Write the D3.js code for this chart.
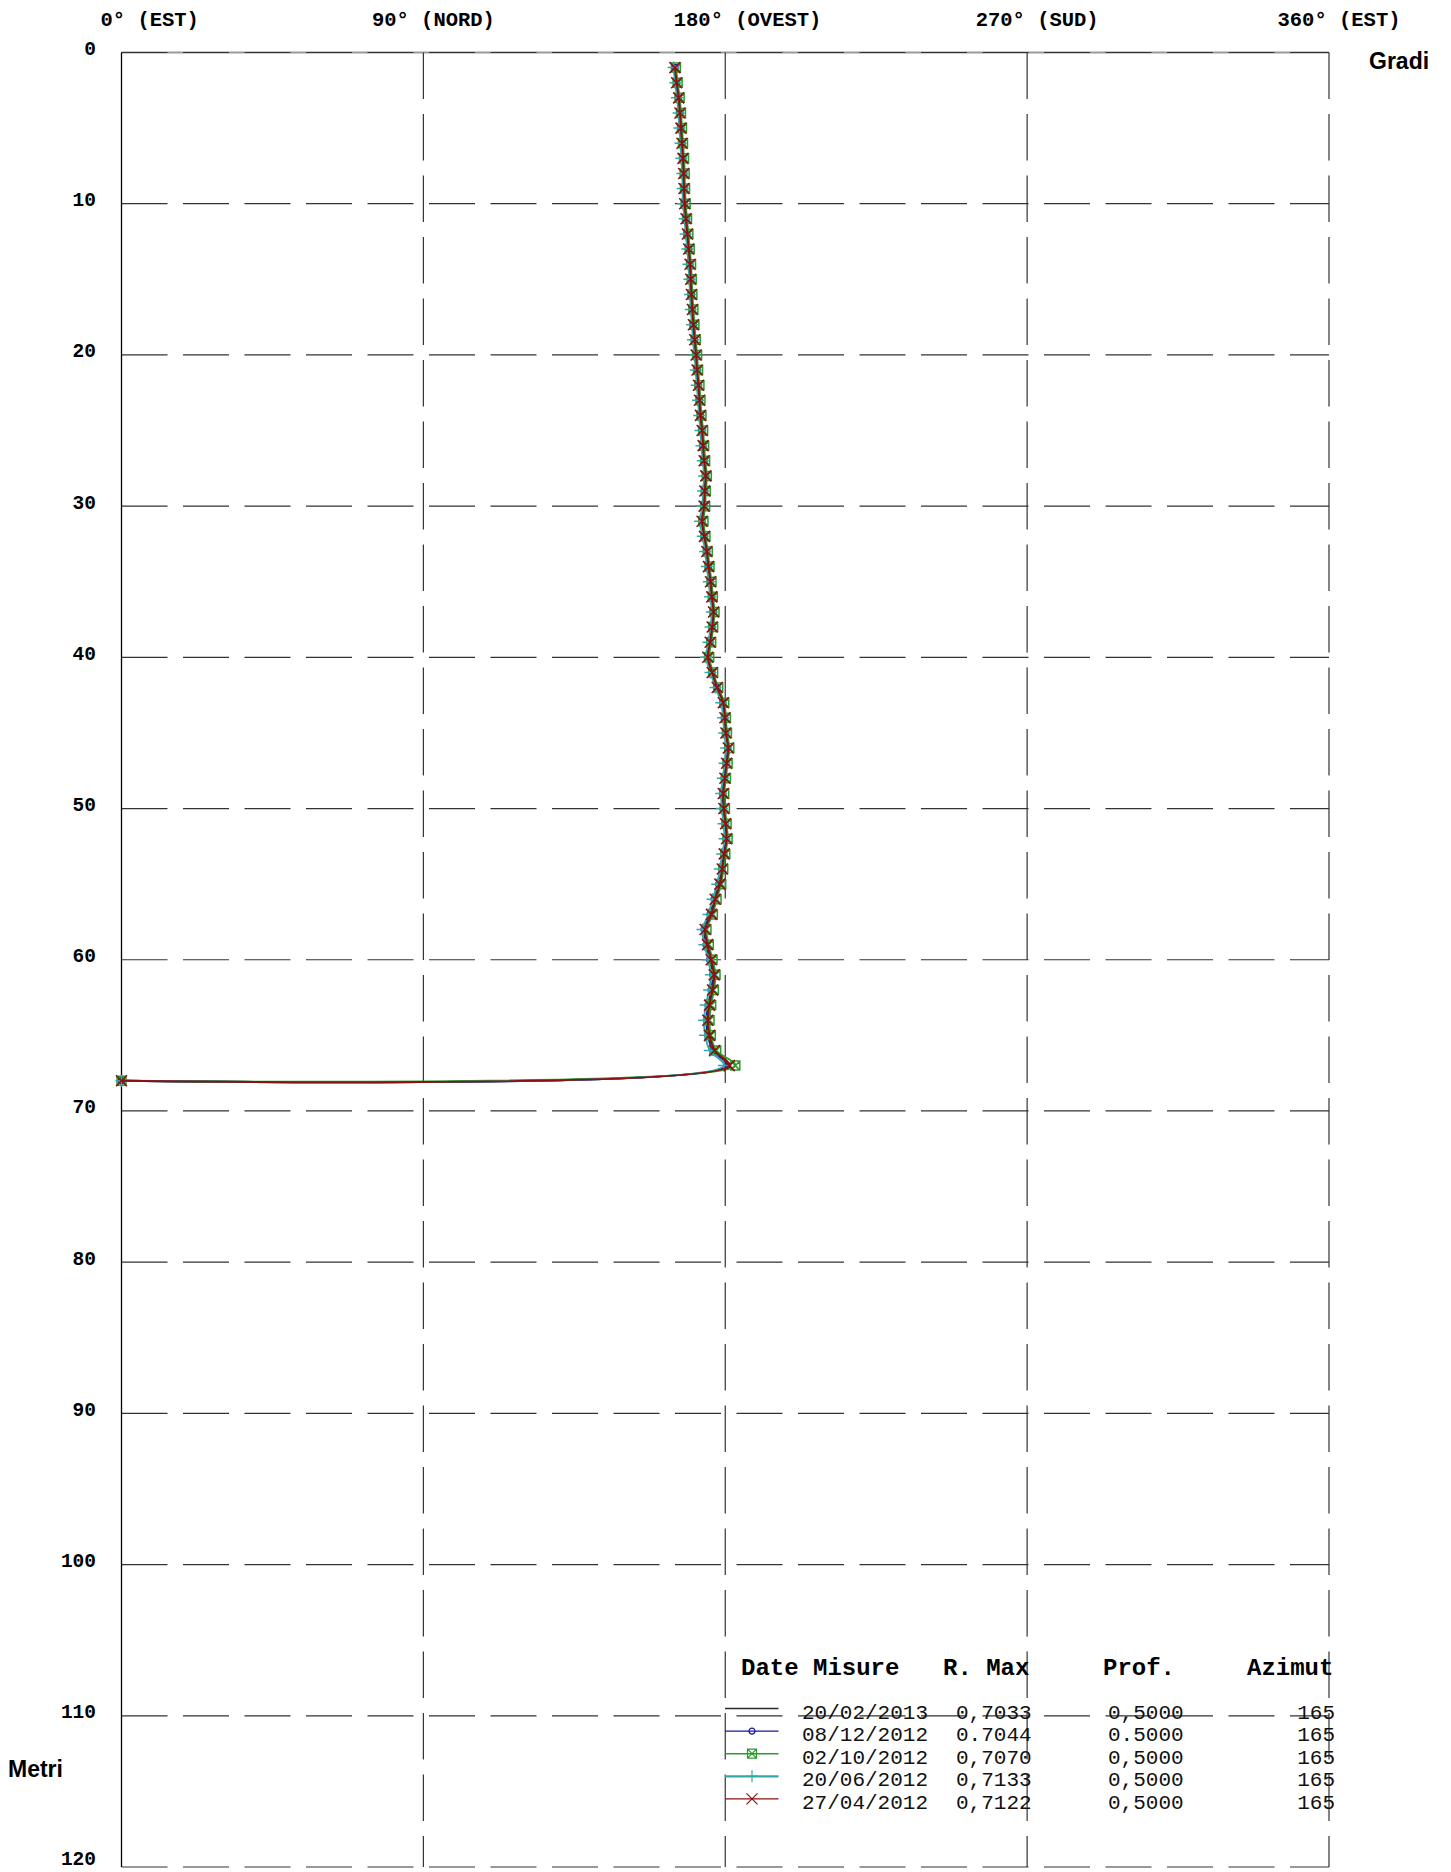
<!DOCTYPE html>
<html><head><meta charset="utf-8">
<script src="https://cdn.jsdelivr.net/npm/d3@7"></script>
<style>body{margin:0;background:#fff}</style>
</head><body><div id="chart"></div>
<script>
// ---------- DATA ----------
const depths = [1,2,3,4,5,6,7,8,9,10,11,12,13,14,15,16,17,18,19,20,
  21,22,23,24,25,26,27,28,29,30,31,32,33,34,35,36,37,38,39,40,
  41,42,43,44,45,46,47,48,49,50,51,52,53,54,55,56,57,58,59,60,
  61,62,63,64,65,66,67,68];

const az_20022013 = [165.1,165.6,166.1,166.6,166.8,167.2,167.4,167.6,167.8,167.9,
  168.4,168.7,169.2,169.5,169.7,170.0,170.2,170.6,170.9,171.3,
  171.7,172.0,172.3,172.7,173.1,173.4,173.8,174.2,173.9,173.6,
  173.1,173.8,174.5,175.1,175.6,176.0,176.5,176.1,175.4,174.8,
  176.1,177.7,179.3,179.9,180.2,180.8,180.4,179.9,179.4,179.6,
  180.1,180.4,179.7,179.0,178.3,177.0,175.8,174.0,174.6,175.7,
  176.6,176.1,175.2,174.7,175.1,176.6,181.0,0];
const az_08122012 = [165.0,165.5,166.0,166.5,166.7,167.1,167.3,167.6,167.7,167.8,
  168.3,168.6,169.1,169.4,169.7,169.9,170.1,170.5,170.8,171.2,
  171.6,171.9,172.3,172.6,173.0,173.3,173.7,174.1,173.8,173.6,
  173.0,173.7,174.4,175.0,175.5,175.9,176.4,176.0,175.4,174.7,
  176.0,177.5,179.2,179.8,180.1,180.7,180.2,179.7,179.2,179.4,
  179.9,180.2,179.5,178.9,178.1,176.7,175.5,173.7,174.3,175.4,
  176.3,175.8,174.9,174.4,174.8,176.3,180.5,0];
const az_02102012 = [165.3,165.8,166.4,166.8,167.1,167.4,167.7,167.9,168.0,168.2,
  168.6,169.0,169.4,169.8,170.0,170.2,170.5,170.8,171.2,171.6,
  171.9,172.3,172.6,172.9,173.4,173.7,174.0,174.5,174.2,174.0,
  173.5,174.1,174.8,175.3,175.9,176.3,176.8,176.4,175.8,175.2,
  176.4,177.9,179.7,180.2,180.5,181.2,180.7,180.2,179.7,179.9,
  180.4,180.7,180.0,179.4,178.8,177.4,176.3,174.4,175.1,176.2,
  177.1,176.6,175.8,175.3,175.7,177.3,183.0,0];
const az_20062012 = [164.6,165.1,165.6,166.1,166.3,166.7,166.9,167.2,167.3,167.4,
  167.9,168.2,168.7,169.0,169.3,169.5,169.7,170.1,170.4,170.8,
  171.2,171.5,171.9,172.2,172.6,172.9,173.3,173.7,173.4,173.2,
  172.5,173.3,174.0,174.5,175.1,175.5,176.0,175.6,175.0,174.3,
  175.6,177.1,178.8,179.4,179.7,180.3,179.8,179.3,178.8,179.0,
  179.5,179.8,179.1,178.4,177.6,176.2,175.0,173.2,173.8,174.9,
  175.7,175.2,174.2,173.7,174.0,175.4,179.6,0];
const az_27042012 = [165.0,165.5,166.1,166.5,166.8,167.1,167.4,167.6,167.7,167.9,
  168.3,168.7,169.1,169.5,169.7,169.9,170.2,170.5,170.9,171.3,
  171.6,172.0,172.3,172.6,173.1,173.4,173.7,174.2,173.9,173.7,
  173.1,173.8,174.5,175.0,175.6,176.0,176.5,176.1,175.5,174.8,
  176.1,177.6,179.4,179.9,180.2,180.9,180.4,179.9,179.4,179.6,
  180.1,180.4,179.7,179.1,178.4,177.0,175.9,174.0,174.7,175.8,
  176.7,176.2,175.3,174.8,175.3,176.8,181.2,0];

const dates  = ["20/02/2013","08/12/2012","02/10/2012","20/06/2012","27/04/2012"];
const rMax   = ["0,7033","0.7044","0,7070","0,7133","0,7122"];
const prof   = ["0,5000","0.5000","0,5000","0,5000","0,5000"];
const azimut = ["165","165","165","165","165"];
const legendHeaders = ["Date Misure","R. Max","Prof.","Azimut"];

const xTicks = [0,90,180,270,360];
const xTickLabels = ["0° (EST)","90° (NORD)","180° (OVEST)","270° (SUD)","360° (EST)"];
const yTicks = [0,10,20,30,40,50,60,70,80,90,100,110,120];

// ---------- STYLES ----------
const seriesValues = [az_20022013, az_08122012, az_02102012, az_20062012, az_27042012];
const colors  = ["#2a2a2a","#1a1a9a","#2e9a2e","#33a8a8","#8b1010"];
const markers = ["none","circle","boxx","plus","x"];

const W = 1451, H = 1872;
const MONO = "'Liberation Mono','DejaVu Sans Mono',monospace";
const SANS = "'Liberation Sans',Arial,sans-serif";

const svg = d3.select("#chart").append("svg").attr("width", W).attr("height", H)
  .style("background","#fff");

const x = d3.scaleLinear().domain([0,360]).range([121.5,1329]);
const y = d3.scaleLinear().domain([0,120]).range([52.5,1867]);

// ---------- GRID ----------
const grid = svg.append("g");
grid.append("line").attr("x1",x(0)).attr("x2",x(360)).attr("y1",y(0)).attr("y2",y(0))
  .attr("stroke","#9a9a9a").attr("stroke-width",2);
grid.selectAll("line.h").data(yTicks).enter().append("line").attr("class","h")
  .attr("x1",x(0)).attr("x2",x(360)).attr("y1",d=>y(d)).attr("y2",d=>y(d))
  .attr("stroke","#333").attr("stroke-width",1.2).attr("stroke-dasharray","46 15.5");
grid.selectAll("line.v").data(xTicks.filter(d=>d>0)).enter().append("line").attr("class","v")
  .attr("x1",d=>x(d)).attr("x2",d=>x(d)).attr("y1",y(0)).attr("y2",y(120))
  .attr("stroke","#333").attr("stroke-width",1.2).attr("stroke-dasharray","46.5 15");
grid.append("line").attr("x1",x(0)).attr("x2",x(0)).attr("y1",y(0)).attr("y2",y(120))
  .attr("stroke","#000").attr("stroke-width",1.3);

// ---------- AXES ----------
const yAxis = svg.append("g").attr("transform",`translate(${x(0)},0)`)
  .call(d3.axisLeft(y).tickValues(yTicks).tickSize(0).tickPadding(25.5).tickFormat(d3.format("d")));
yAxis.select(".domain").remove();
yAxis.selectAll("text").attr("dy", d => d === 120 ? "-0.12em" : "0.1em")
  .style("font-family",MONO).style("font-weight","bold").style("font-size","19.5px").attr("fill","#000");

const xAxis = svg.append("g")
  .call(d3.axisTop(x).tickValues(xTicks).tickSize(0).tickFormat((d,i)=>xTickLabels[i]));
xAxis.select(".domain").remove();
xAxis.selectAll("text").attr("text-anchor","start").attr("y",25.7).attr("dy",0)
  .attr("x", d => Math.max(100 - x(d), -52))
  .style("font-family",MONO).style("font-weight","bold").style("font-size","20.5px").attr("fill","#000");

svg.append("text").text("Gradi").attr("x",1369).attr("y",69)
  .style("font-family",SANS).style("font-weight","bold").style("font-size","23px");
svg.append("text").text("Metri").attr("x",8).attr("y",1777)
  .style("font-family",SANS).style("font-weight","bold").style("font-size","23px");

// ---------- SERIES ----------
const markerPath = {
  circle: "M3,0A3,3 0 1,1 -3,0A3,3 0 1,1 3,0Z",
  boxx: "M-4.5,-4.5H4.5V4.5H-4.5Z M-4.5,-4.5L4.5,4.5 M-4.5,4.5L4.5,-4.5",
  plus: "M-6,0H6 M0,-6V6",
  x: "M-5.5,-5.5L5.5,5.5 M-5.5,5.5L5.5,-5.5"
};
const line = d3.line().x(d=>x(d[1])).y(d=>y(d[0])).curve(d3.curveCatmullRom.alpha(0.5));

seriesValues.forEach((vals,si)=>{
  const pts = depths.map((dp,i)=>[dp, vals[i]]);
  const g = svg.append("g");
  g.append("path").datum(pts).attr("d",line).attr("fill","none")
    .attr("stroke",colors[si]).attr("stroke-width",1.9);
  if (markers[si] !== "none") {
    g.selectAll("path.m").data(pts).enter().append("path").attr("class","m")
      .attr("transform",d=>`translate(${x(d[1])},${y(d[0])})`)
      .attr("d",markerPath[markers[si]]).attr("fill","none")
      .attr("stroke",colors[si]).attr("stroke-width",1.5);
  }
});

// ---------- LEGEND ----------
const leg = svg.append("g");
const headerX = [741, 943, 1103, 1247];
leg.selectAll("text.hdr").data(legendHeaders).enter().append("text").attr("class","hdr")
  .attr("x",(d,i)=>headerX[i]).attr("y",1675).text(d=>d)
  .style("font-family",MONO).style("font-weight","bold").style("font-size","24px");
const rowY = i => 1718.5 + i*22.6;
dates.forEach((d,i)=>{
  const by = rowY(i);
  leg.append("line").attr("x1",725).attr("x2",778.5).attr("y1",by-10).attr("y2",by-10)
    .attr("stroke",colors[i]).attr("stroke-width",i===3?2.2:1.4);
  if (markers[i] !== "none") {
    leg.append("path").attr("transform",`translate(752,${by-10})`)
      .attr("d",markerPath[markers[i]]).attr("fill","none")
      .attr("stroke",colors[i]).attr("stroke-width",1.2);
  }
  const cells = [[d,802,"start"],[rMax[i],956,"start"],[prof[i],1108,"start"],[azimut[i],1335,"end"]];
  cells.forEach(c=>{
    leg.append("text").attr("x",c[1]).attr("y",by).attr("text-anchor",c[2]).text(c[0])
      .style("font-family",MONO).style("font-size","21px").attr("fill","#111");
  });
});
</script>
</body></html>
